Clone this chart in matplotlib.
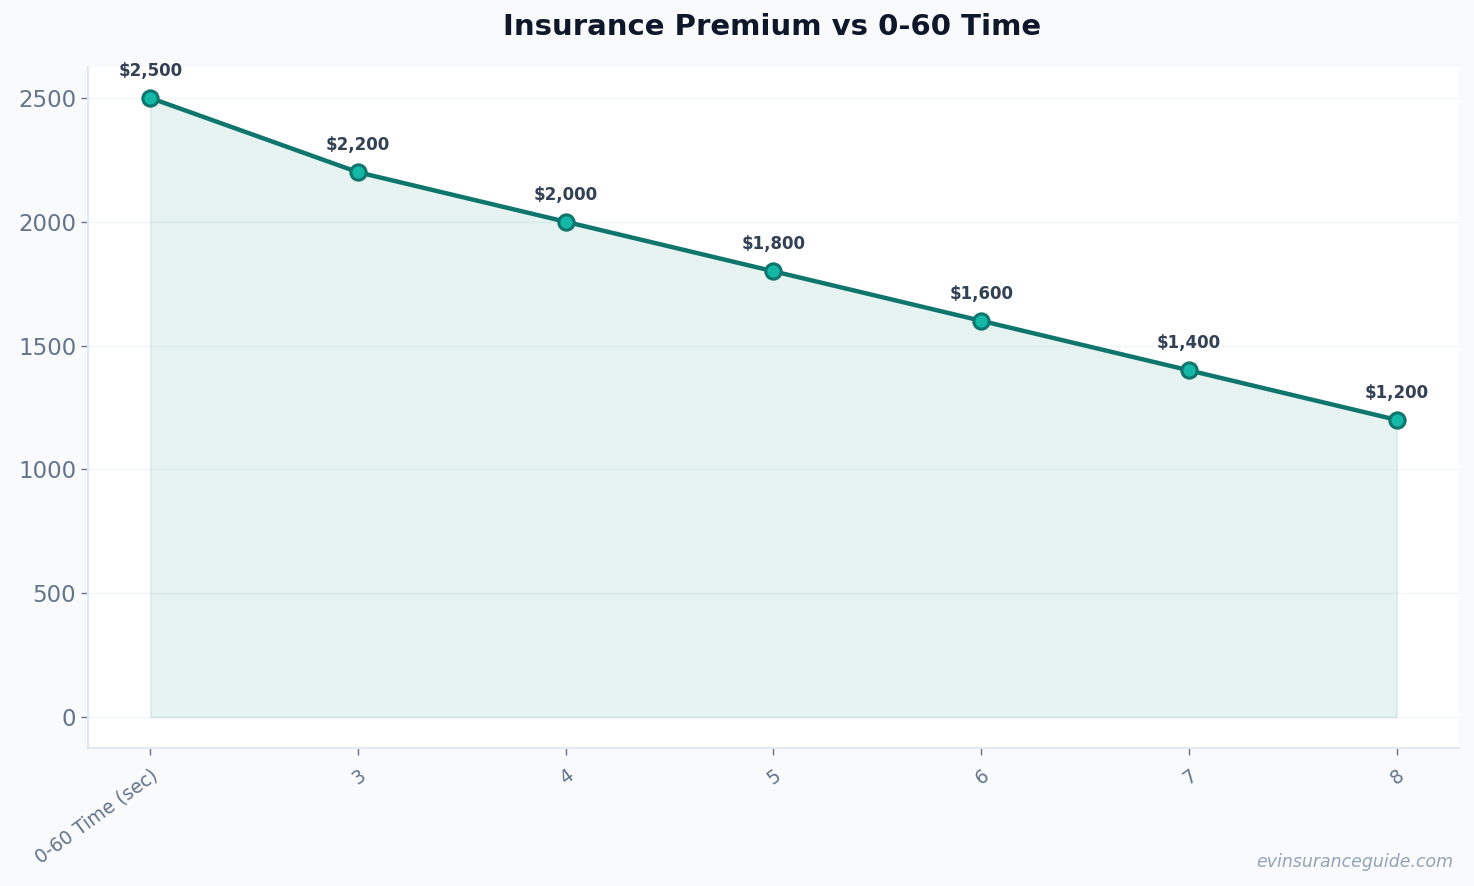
import matplotlib
matplotlib.use("Agg")
import matplotlib.pyplot as plt
from matplotlib.transforms import ScaledTranslation

# data
categories = ["0-60 Time (sec)", "3", "4", "5", "6", "7", "8"]
premiums = [2500, 2200, 2000, 1800, 1600, 1400, 1200]

LINE = "#0f766e"
MARK = "#14b8a6"
TXT = "#334155"
MUTED = "#64748b"

fig = plt.figure(figsize=(14.74, 8.86), dpi=100, facecolor="#f8fafc")
ax = fig.add_axes([0.0597, 0.1558, 0.9301, 0.7686])
ax.set_facecolor("white")

xs = list(range(len(categories)))
ax.fill_between(xs, premiums, 0, color="#0f8a70", alpha=0.1, lw=1.2,
                edgecolor=(0.06, 0.5, 0.43, 0.12))
ax.plot(xs, premiums, color=LINE, lw=3.2, marker="o", markersize=11,
        markerfacecolor=MARK, markeredgecolor=LINE, markeredgewidth=2.2, zorder=3)

for x, v in zip(xs, premiums):
    ax.annotate(f"${v:,}", (x, v), xytext=(0, 13), textcoords="offset points",
                ha="center", va="bottom", fontsize=12, fontweight="bold", color=TXT)

ax.set_xlim(-0.3, 6.3)
ax.set_ylim(-125, 2625)
ax.set_xticks(xs)
ax.set_xticklabels(categories, rotation=36, ha="right", rotation_mode="anchor",
                   fontsize=13.5, color=MUTED)
shift = ScaledTranslation(-9 / 100, 0, fig.dpi_scale_trans)
for lab in ax.get_xticklabels():
    lab.set_transform(lab.get_transform() + shift)
ax.set_yticks([0, 500, 1000, 1500, 2000, 2500])
ax.tick_params(axis="y", labelsize=16.5, labelcolor=MUTED, color=MUTED, length=5, width=1)
ax.tick_params(axis="x", color=MUTED, length=5, width=1, pad=8)

ax.grid(axis="y", color="#f1f5f9", lw=1)
ax.set_axisbelow(True)
for s in ["top", "right"]:
    ax.spines[s].set_visible(False)
for s in ["left", "bottom"]:
    ax.spines[s].set_color("#e2e8f0")
    ax.spines[s].set_linewidth(1.5)

fig.text(0.524, 0.969, "Insurance Premium vs 0-60 Time", ha="center", va="center",
         fontsize=21, fontweight="bold", color="#0f172a")
fig.text(0.986, 0.027, "evinsuranceguide.com", ha="right", va="center",
         fontsize=12.5, style="italic", color="#94a3b8")

fig.savefig("out.png", dpi=100, facecolor=fig.get_facecolor())
